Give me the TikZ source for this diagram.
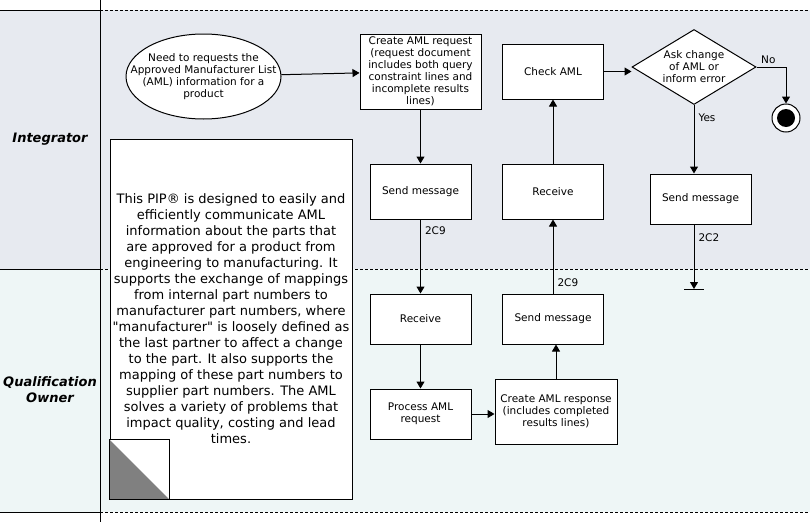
\documentclass[tikz,border=0pt]{standalone}
\usepackage{fontspec}
\setmainfont{DejaVu Sans}[Ligatures=TeXOff]
\usetikzlibrary{arrows.meta,positioning,shapes.geometric}

\definecolor{intlane}{RGB}{231,234,240}
\definecolor{qolane}{RGB}{238,246,246}
\definecolor{foldgray}{RGB}{128,128,128}

\tikzset{
  activity/.style={draw, fill=white, rectangle, minimum width=101pt, minimum height=50pt, align=center, inner sep=1pt},
  lanename/.style={font=\fontsize{13}{16}\bfseries\itshape\selectfont, align=center},
  lanesep/.style={dash pattern=on 3pt off 2pt},
  flowlabel/.style={font=\fontsize{10.5}{12}\selectfont, right, inner sep=4pt}
}

\begin{document}
\begin{tikzpicture}[x=1pt, y=-1pt, ->, >={Triangle[width=8pt,length=7pt]}, line width=1pt, font=\fontsize{10.5}{12}\selectfont]
  \useasboundingbox (0,0) rectangle (810,522);

  % swim lanes
  \begin{scope}[-]
    \fill[intlane] (0,10) rectangle (810,269);
    \fill[qolane] (0,269) rectangle (810,512);
    \foreach \y in {10,269,512} {
      \draw (0,\y) -- (100,\y);
      \draw[lanesep] (100,\y) -- (810,\y);
    }
    \draw (100,0) -- (100,522);
  \end{scope}
  \node[lanename] (integrator) at (50,139) {Integrator};
  \node[lanename] (qualowner)  at (50,390) {Qualification\\Owner};

  % note
  \node[draw, fill=white, minimum width=242pt, minimum height=360pt, inner sep=0pt, align=center,
        font=\fontsize{13}{16}\selectfont] (pipnote) at (231,319)
    {This PIP® is designed to easily and\\efficiently communicate AML\\information about the parts that\\are approved for a product from\\engineering to manufacturing. It\\supports the exchange of mappings\\from internal part numbers to\\manufacturer part numbers, where\\"manufacturer" is loosely defined as\\the last partner to affect a change\\to the part. It also supports the\\mapping of these part numbers to\\supplier part numbers. The AML\\solves a variety of problems that\\impact quality, costing and lead\\times.};
  \begin{scope}[-]
    \fill[white] (pipnote.south west) rectangle ++(60,-60);
    \fill[foldgray] (pipnote.south west) -- ++(0,-60) -- ++(60,60) -- cycle;
    \draw (pipnote.south west) rectangle ++(60,-60);
  \end{scope}

  % activities
  \node[draw, fill=white, ellipse, minimum width=155pt, minimum height=85pt, inner sep=0pt,
        label={[align=center]center:Need to requests the\\Approved Manufacturer List\\(AML) information for a\\product}]
        (need) at (203.5,76.5) {};
  \node[activity, minimum width=121pt, minimum height=75pt] (create) at (420.5,71.5)
        {Create AML request\\(request document\\includes both query\\constraint lines and\\incomplete results\\lines)};
  \node[activity, minimum height=55pt] (send1) [below of=create, node distance=120pt] {Send message};
  \node[activity] (recv1) [below of=send1, node distance=127.5pt] {Receive};
  \node[activity] (process) [below of=recv1, node distance=95pt] {Process AML\\request};
  \node[activity, minimum width=122pt, minimum height=65pt] (response) at (556,411.5)
        {Create AML response\\(includes completed\\results lines)};
  \node[activity] (send2) at (553,319) {Send message};
  \node[activity, minimum height=55pt] (recv2) [below of=send2, node distance=-127.5pt] {Receive};
  \node[activity, minimum height=55pt] (check) [below of=recv2, node distance=-120pt] {Check AML};
  \node[draw, fill=white, diamond, aspect=1.65, minimum width=124pt, minimum height=75pt, inner sep=0pt, align=center]
        (askchange) at (694,67) {Ask change\\of AML or\\inform error};
  \node[activity] (send3) at (700.5,199) {Send message};
  \node[draw, circle, fill=white, minimum size=28pt, inner sep=0pt] (done) at (786,118) {};
  \fill (done.center) circle (9pt);
  \coordinate (sink) at (694,289);

  % flows
  \draw (need) -- (create);
  \draw (create) -- (send1);
  \draw (send1) -- node[flowlabel, pos=0.15] {2C9} (recv1);
  \draw (recv1) -- (process);
  \draw (process.east) -- (process.east -| response.west);
  \draw (response.north) -- (response.north |- send2.south);
  \draw (send2) -- node[flowlabel, pos=0.15] {2C9} (recv2);
  \draw (recv2) -- (check);
  \draw (check.east) -- (check.east -| askchange.west);
  \draw (askchange.east) -| node[flowlabel, pos=0.2, above, inner sep=3pt] {No} (done.north);
  \draw (askchange.south) -- node[flowlabel, pos=0.18] {Yes} (askchange.south |- send3.north);
  \draw (askchange.south |- send3.south) -- node[flowlabel, pos=0.2] {2C2} (sink);
  \draw[-] ([xshift=-10pt]sink) -- ([xshift=10pt]sink);
\end{tikzpicture}
\end{document}
